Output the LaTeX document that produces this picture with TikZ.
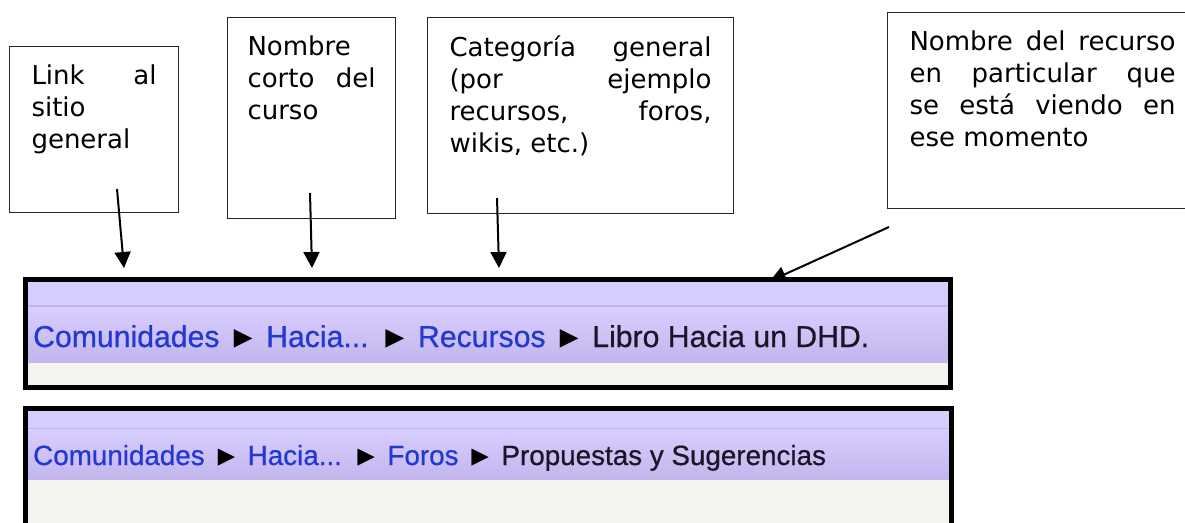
\documentclass[tikz,border=0pt]{standalone}
\usepackage{fontspec}
\setmainfont{DejaVu Sans}
\newfontfamily\crumbfont[FakeBold=0.6]{Liberation Sans}
\usetikzlibrary{arrows.meta}

\definecolor{crumblink}{RGB}{34,56,210}
\definecolor{crumbtext}{RGB}{26,22,40}
\definecolor{barlight}{RGB}{216,205,255}
\definecolor{bardark}{RGB}{194,181,236}
\definecolor{barline}{RGB}{192,180,236}
\definecolor{barbase}{RGB}{245,243,238}

\newcommand{\notetext}[3]{\parbox[t][#2][t]{#1}{#3}}
\newcommand{\crumblink}[1]{\textcolor{crumblink}{#1}}
\newcommand{\crumbsep}{\textcolor{black}{►}}

\tikzset{
  note/.style={draw=black!85, line width=1pt, anchor=north west, inner ysep=18pt,
    font=\fontsize{26pt}{32pt}\selectfont},
  pointer/.style={-{Triangle[length=16pt,width=16pt]}, line width=2pt},
  crumb/.style={anchor=base west, inner sep=0pt, text=crumbtext},
  barframe/.style={draw=black, line width=5pt}
}

\begin{document}
\begin{tikzpicture}[x=1pt,y=-1pt]
  \useasboundingbox (0,0) rectangle (1185,522);

  % boxes with the explanations
  \node[note, inner xsep=22pt] (link) at (9,46)
    {\notetext{125pt}{130pt}{Link\hfill al\\sitio\\general}};
  \node[note, inner xsep=20pt] (curso) at (227,17)
    {\notetext{128pt}{165pt}{Nombre\\corto\hfill del\\curso}};
  \node[note, inner xsep=22pt] (categoria) at (427,17)
    {\notetext{262pt}{160pt}{Categoría\hfill general\\(por\hfill ejemplo\\recursos,\hfill foros,\\wikis, etc.)}};
  \node[note, inner xsep=22pt] (recurso) at (887,12)
    {\notetext{266pt}{160pt}{Nombre\hfill del\hfill recurso\\en\hfill particular\hfill que\\se\hfill está\hfill viendo\hfill en\\ese momento}};

  % first breadcrumb bar
  \fill[barlight] (25,280) rectangle (951,306);
  \fill[barline] (25,305) rectangle (951,307);
  \shade[top color=barlight, bottom color=bardark] (25,307) rectangle (951,363);
  \fill[barbase] (25,363) rectangle (951,388);
  \draw[barframe] (25.5,279.5) rectangle (950.5,387.5);
  \node[crumb, font=\crumbfont\fontsize{30.2pt}{36pt}\selectfont] (crumbA) at (33,347)
    {\crumblink{Comunidades} \crumbsep{} \crumblink{Hacia...} \crumbsep{} \crumblink{Recursos} \crumbsep{} Libro Hacia un DHD.};

  % second breadcrumb bar
  \fill[barlight] (25,408) rectangle (951,428);
  \fill[barline] (25,427.5) rectangle (951,429.5);
  \shade[top color=barlight, bottom color=bardark] (25,429.5) rectangle (951,480);
  \fill[barbase] (25,480) rectangle (951,540);
  \draw[barframe] (25.5,408) rectangle (951.5,540);
  \node[crumb, font=\crumbfont\fontsize{27.8pt}{33pt}\selectfont] (crumbB) at (33,465)
    {\crumblink{Comunidades} \crumbsep{} \crumblink{Hacia...} \crumbsep{} \crumblink{Foros} \crumbsep{} Propuestas y Sugerencias};

  % arrows
  \coordinate (linkfrom) at (117,189);
  \coordinate (linkto) at (124,268);
  \coordinate (cursofrom) at (310,193);
  \coordinate (cursoto) at (312,268);
  \coordinate (catfrom) at (497,198);
  \coordinate (catto) at (499,268);
  \coordinate (recfrom) at (889,227);
  \coordinate (recto) at (770,281);
  \draw[pointer] (linkfrom) -- (linkto);
  \draw[pointer] (cursofrom) -- (cursoto);
  \draw[pointer] (catfrom) -- (catto);
  \draw[pointer] (recfrom) -- (recto);
\end{tikzpicture}
\end{document}
